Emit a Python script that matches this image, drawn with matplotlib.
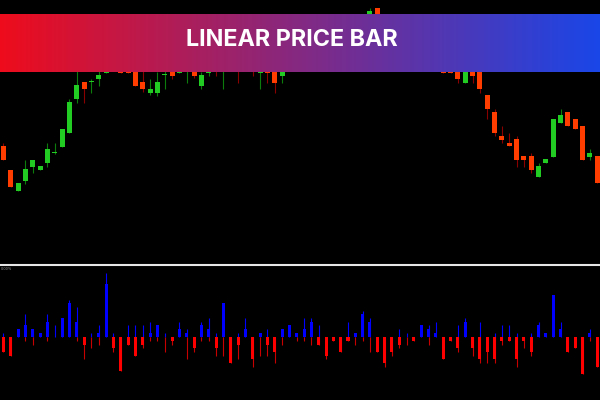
import numpy as np
import matplotlib
matplotlib.use("Agg")
import matplotlib.pyplot as plt
from matplotlib.lines import Line2D

# price candles (arbitrary price units)
opens = [118, 94, 73, 83, 97, 94, 101, 111, 117, 131, 165, 182, 182, 185, 191, 238, 222, 199, 195, 182,
         171, 171, 189, 193, 191, 201, 199, 178, 191, 205, 192, 222, 202, 198, 216, 191, 198, 195, 188, 204,
         218, 224, 231, 245, 240, 222, 218, 208, 208, 213, 238, 256, 240, 218, 206, 200, 202, 196, 204, 206,
         211, 195, 195, 181, 198, 195, 169, 152, 128, 121, 125, 108, 108, 87, 101, 107, 141, 152, 145, 138,
         107, 108]
highs = [121, 94, 81, 104, 104, 98, 121, 121, 135, 165, 193, 182, 185, 196, 248, 242, 222, 209, 206, 193,
         185, 192, 193, 198, 207, 208, 199, 192, 209, 209, 223, 222, 206, 215, 216, 195, 206, 195, 195, 215,
         222, 241, 248, 248, 240, 222, 218, 222, 212, 237, 256, 256, 240, 218, 213, 203, 202, 207, 214, 220,
         211, 195, 206, 199, 198, 209, 169, 155, 138, 131, 128, 108, 111, 101, 105, 145, 155, 152, 145, 138,
         115, 108]
lows = [104, 77, 73, 80, 91, 94, 97, 110, 117, 131, 161, 161, 171, 178, 191, 224, 191, 191, 178, 172,
        169, 168, 175, 185, 191, 181, 186, 175, 188, 188, 175, 198, 181, 198, 188, 175, 181, 171, 181, 204,
        214, 220, 224, 238, 220, 218, 205, 204, 201, 209, 224, 242, 213, 201, 196, 193, 198, 196, 197, 206,
        191, 191, 181, 181, 181, 171, 145, 128, 121, 118, 97, 97, 91, 87, 101, 107, 141, 138, 135, 104,
        104, 81]
closes = [104, 77, 81, 95, 104, 98, 115, 111.5, 135, 162, 179, 175, 182.3, 189, 239, 227, 191, 191, 178, 175,
          175, 182, 189.3, 188, 199, 205, 188, 189, 198, 195, 223, 198, 195, 205, 196, 195, 191, 181, 195, 215,
          222, 231, 245, 238, 223, 218, 205, 204, 212, 234, 253, 242, 216, 204, 199, 200.3, 198, 207, 211, 210,
          191, 191, 185, 195, 188, 175, 155, 131, 124, 118, 104, 104, 94, 98, 105, 145, 149, 138, 135, 104,
          111, 81]

# Linear Price Bar indicator: close-open, high-open, low-open
lpb_body = [-14.7, -18.7, 8, 11.7, 8, 4, 15.3, 0.5, 19, 33.7, 15.3, -8, 0.3, 4, 53, -11.3, -33.7, -8, -18.7, -8,
            4, 11.7, 0.3, -4, 8, 4, -11.3, 11.7, 8, -11.3, 33.7, -26, -8, 8, -22, 4, -8, -14.7, 8, 11.7,
            4, 8, 15.3, -8, -18.7, -4, -14.7, -4, 4, 23, 15.3, -14.7, -26, -14.7, -8, 0.3, -4, 11.7, 8, 4,
            -22, -4, -11.3, 15.3, -11.3, -22, -14.7, -22, -4, -4, -22, -4, -14.7, 11.7, 4, 42, 8, -14.7, -11.3, -37,
            4, -29.7]
lpb_high = [4, 0, 8, 23, 8, 4, 23, 11.7, 19, 37, 30, 0, 4, 11.7, 63.7, 4, 0, 11.7, 11.7, 11.7,
            15.3, 11.7, 4, 0, 15.3, 8, 0, 15.3, 19, 4, 33.7, 0, 4, 19, 0, 4, 8, 0, 8, 11.7,
            4, 19, 19, 11.7, 0, 0, 0, 15.3, 4, 26.3, 19, 0, 0, 0, 8, 4, 0, 11.7, 11.7, 15.3,
            0, 0, 11.7, 19, 0, 15.3, 0, 4, 11.7, 11.7, 4, 0, 4, 15.3, 4, 42, 15.3, 0, 0, 0,
            8, 0]
lpb_low = [-14.7, -18.7, 0, -4, -8, 0, -4, 0, 0, 0, -4, -22, -11, -8, 0, -14.7, -33.7, -8, -18.7, -11.3,
           -4, -4, -14.7, -8, 0, -22, -14.7, -4, -4, -18.7, -18.7, -26, -22, 0, -29.7, -18.7, -18.7, -26, -8, 0,
           -4, -4, -8, -8, -22, -4, -14.7, -4, -8, -4, -14.7, -14.7, -29.7, -18.7, -11.3, -8, -4, 0, -8, 0,
           -22, -4, -14.7, 0, -18.7, -26, -26, -26, -8, -4, -29.7, -11.3, -18.7, 0, 0, 0, 0, -14.7, -11.3, -37,
           -4, -29.7]

title = "LINEAR PRICE BAR"

o = np.array(opens, float)
h = np.array(highs, float)
l = np.array(lows, float)
c = np.array(closes, float)
x = np.arange(len(o))
up = c >= o

fig = plt.figure(figsize=(6, 4), dpi=100, facecolor="black")

# main price panel
ax = fig.add_axes([0, 1 - 264 / 400, 1, 264 / 400])
ax.set_facecolor("black")
wick_col = np.where(up, "#0c7d0c", "#8a0000")
ax.vlines(x, l, h, colors=wick_col, linewidth=0.8, zorder=1)
body_h = np.maximum(np.abs(c - o), 0.8)
body_b = np.minimum(o, c)
ax.bar(x, body_h, bottom=body_b, width=0.68,
       color=np.where(up, "#22cc22", "#ff3d00"), linewidth=0, zorder=2)
ax.set_xlim(-0.477, 81.38)
ax.set_ylim(0, 264)
ax.axis("off")

# indicator panel
ax2 = fig.add_axes([0, 0, 1, 134 / 400])
ax2.set_facecolor("black")
b = np.array(lpb_body)
hi = np.array(lpb_high)
lo = np.array(lpb_low)
ax2.vlines(x, 0, hi, colors="#0000ff", linewidth=0.8, zorder=1)
ax2.vlines(x, lo, 0, colors="#c80000", linewidth=0.8, zorder=1)
ax2.bar(x, b, width=0.41, color=np.where(b >= 0, "#0000ff", "#ff0000"), linewidth=0, zorder=2)
ax2.set_xlim(-0.477, 81.38)
ax2.set_ylim(-63, 71)
ax2.axis("off")

# separator line and tiny indicator label
fig.add_artist(Line2D([0, 1], [1 - 265 / 400, 1 - 265 / 400], color="#e6e6e6", linewidth=1.5,
                      transform=fig.transFigure))
fig.text(0.001, 1 - 267.5 / 400, "0.00%", fontsize=2.5, color="#999999", va="top", ha="left")

# gradient banner
bax = fig.add_axes([0, 1 - 72 / 400, 1, (72 - 14.5) / 400])
left = np.array([238, 12, 28]) / 255
right = np.array([26, 70, 232]) / 255
t = np.linspace(0, 1, 300)[None, :, None]
grad = left * (1 - t) + right * t
bax.imshow(grad, aspect="auto", extent=[0, 1, 0, 1])
bax.text(0.486, 0.56, title, color="white", fontsize=16.8, fontweight="bold",
         family=["Inter", "DejaVu Sans"], ha="center", va="center", transform=bax.transAxes)
bax.set_xlim(0, 1)
bax.set_ylim(0, 1)
bax.axis("off")

fig.savefig("out.png", dpi=100, facecolor="black")
